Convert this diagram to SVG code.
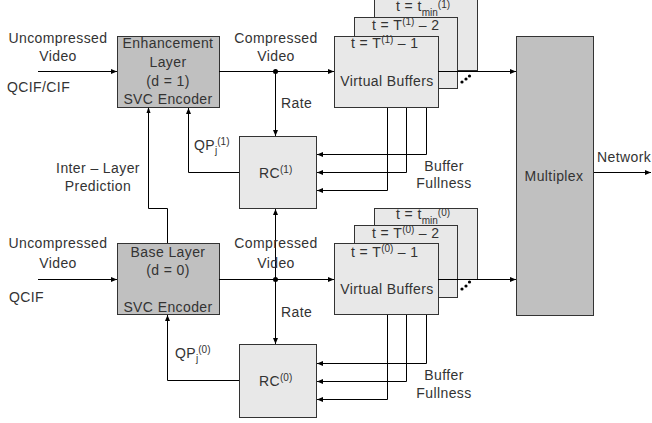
<svg xmlns="http://www.w3.org/2000/svg" width="652" height="423" viewBox="0 0 652 423">
<defs>
<marker id="ah" viewBox="0 0 6 6" refX="6" refY="3" markerWidth="6" markerHeight="6" markerUnits="userSpaceOnUse" orient="auto">
<path d="M0,0.5 L6,3 L0,5.5 Z" fill="#000"/>
</marker>
</defs>
<style>
text{font-family:"Liberation Sans",Arial,sans-serif;font-size:14px;letter-spacing:0.4px;fill:#333}
.m{text-anchor:middle}
.sup{font-size:10px;letter-spacing:0}
.enc{fill:#c0c0c0;stroke:#333;stroke-width:1}
.lt{fill:#e8e8e8;stroke:#333;stroke-width:1}
.ln{fill:none;stroke:#000;stroke-width:1}
.arr{fill:none;stroke:#000;stroke-width:1;marker-end:url(#ah)}
</style>
<rect width="652" height="423" fill="#fff"/>

<g id="vb1">
<rect class="lt" x="374.5" y="-1.5" width="103" height="72"/>
<rect class="lt" x="354.5" y="17.5" width="103" height="71"/>
<rect class="lt" x="334.5" y="36.5" width="104" height="71"/>
<text x="396" y="11">t = t<tspan class="sup" dy="5">min</tspan><tspan class="sup" dy="-8">(1)</tspan></text>
<text x="372" y="30">t = T<tspan class="sup" dy="-5">(1)</tspan><tspan dy="5"> – 2</tspan></text>
<text x="351" y="48">t = T<tspan class="sup" dy="-5">(1)</tspan><tspan dy="5"> – 1</tspan></text>
<text class="m" x="387" y="86">Virtual Buffers</text>
<circle cx="462" cy="82" r="1.6"/><circle cx="466" cy="79" r="1.6"/><circle cx="469.5" cy="76" r="1.6"/>
</g>

<g id="vb0">
<rect class="lt" x="374.5" y="208.5" width="103" height="71"/>
<rect class="lt" x="354.5" y="225.5" width="103" height="72"/>
<rect class="lt" x="334.5" y="243.5" width="104" height="71"/>
<text x="396" y="219">t = t<tspan class="sup" dy="5">min</tspan><tspan class="sup" dy="-8">(0)</tspan></text>
<text x="372" y="238">t = T<tspan class="sup" dy="-5">(0)</tspan><tspan dy="5"> – 2</tspan></text>
<text x="351" y="257">t = T<tspan class="sup" dy="-5">(0)</tspan><tspan dy="5"> – 1</tspan></text>
<text class="m" x="387" y="294">Virtual Buffers</text>
<circle cx="462" cy="289" r="1.6"/><circle cx="466" cy="286" r="1.6"/><circle cx="469.5" cy="282" r="1.6"/>
</g>

<g id="enc1">
<rect class="enc" x="117.5" y="36.5" width="102" height="71"/>
<text class="m" x="168" y="48">Enhancement</text>
<text class="m" x="168" y="67">Layer</text>
<text class="m" x="168" y="86">(d = 1)</text>
<text class="m" x="168" y="104">SVC Encoder</text>
</g>

<g id="enc0">
<rect class="enc" x="117.5" y="243.5" width="102" height="71"/>
<text class="m" x="168" y="257">Base Layer</text>
<text class="m" x="168" y="275">(d = 0)</text>
<text class="m" x="168" y="312">SVC Encoder</text>
</g>

<g id="rc1">
<rect class="lt" x="239.5" y="136.5" width="77" height="72"/>
<text x="259" y="178">RC<tspan class="sup" dy="-5">(1)</tspan></text>
</g>

<g id="rc0">
<rect class="lt" x="239.5" y="344.5" width="77" height="73"/>
<text x="259" y="386">RC<tspan class="sup" dy="-5">(0)</tspan></text>
</g>

<g id="mux">
<rect class="enc" x="516.5" y="36.5" width="77" height="279"/>
<text class="m" x="554" y="181">Multiplex</text>
</g>

<g id="connectors">
<line class="arr" x1="38" y1="71.5" x2="117" y2="71.5"/>
<line class="arr" x1="219" y1="71.5" x2="334" y2="71.5"/>
<line class="arr" x1="438" y1="71.5" x2="516" y2="71.5"/>
<line class="arr" x1="275.5" y1="71" x2="275.5" y2="136"/>
<circle cx="275.5" cy="71.5" r="2.5"/>
<polyline class="arr" points="239,172.5 188.5,172.5 188.5,108"/>
<polyline class="ln" points="148.5,108 148.5,208.5 167.5,208.5 167.5,243"/>
<path d="M148.5,107 L146.5,113 L150.5,113 Z"/>
<polyline class="arr" points="426.5,108 426.5,154.5 317,154.5"/>
<polyline class="arr" points="406.5,108 406.5,172.5 317,172.5"/>
<polyline class="arr" points="387.5,108 387.5,190.5 317,190.5"/>

<line class="arr" x1="38" y1="279.5" x2="117" y2="279.5"/>
<line class="arr" x1="219" y1="279.5" x2="334" y2="279.5"/>
<line class="arr" x1="438" y1="279.5" x2="516" y2="279.5"/>
<line class="arr" x1="275.5" y1="279" x2="275.5" y2="209"/>
<line class="arr" x1="275.5" y1="279" x2="275.5" y2="344"/>
<circle cx="275.5" cy="279.5" r="2.5"/>
<polyline class="arr" points="239,380.5 167.5,380.5 167.5,315"/>
<polyline class="arr" points="426.5,315 426.5,363.5 317,363.5"/>
<polyline class="arr" points="406.5,315 406.5,381.5 317,381.5"/>
<polyline class="arr" points="387.5,315 387.5,399.5 317,399.5"/>

<line class="arr" x1="594" y1="172.5" x2="651" y2="172.5"/>
</g>

<g id="labels">
<text class="m" x="58" y="43">Uncompressed</text>
<text class="m" x="58" y="61">Video</text>
<text x="7" y="92">QCIF/CIF</text>
<text class="m" x="276" y="43">Compressed</text>
<text class="m" x="276" y="61">Video</text>
<text x="281" y="108">Rate</text>
<text x="194" y="150">QP<tspan class="sup" dy="4">j</tspan><tspan class="sup" dy="-9">(1)</tspan></text>
<text class="m" x="98" y="173">Inter – Layer</text>
<text class="m" x="98" y="191">Prediction</text>
<text class="m" x="444" y="171">Buffer</text>
<text class="m" x="444" y="188">Fullness</text>
<text x="597" y="162">Network</text>

<text class="m" x="58" y="248">Uncompressed</text>
<text class="m" x="58" y="268">Video</text>
<text x="9" y="302">QCIF</text>
<text class="m" x="276" y="248">Compressed</text>
<text class="m" x="276" y="268">Video</text>
<text x="281" y="317">Rate</text>
<text x="175" y="358">QP<tspan class="sup" dy="4">j</tspan><tspan class="sup" dy="-9">(0)</tspan></text>
<text class="m" x="444" y="380">Buffer</text>
<text class="m" x="444" y="398">Fullness</text>
</g>
</svg>
